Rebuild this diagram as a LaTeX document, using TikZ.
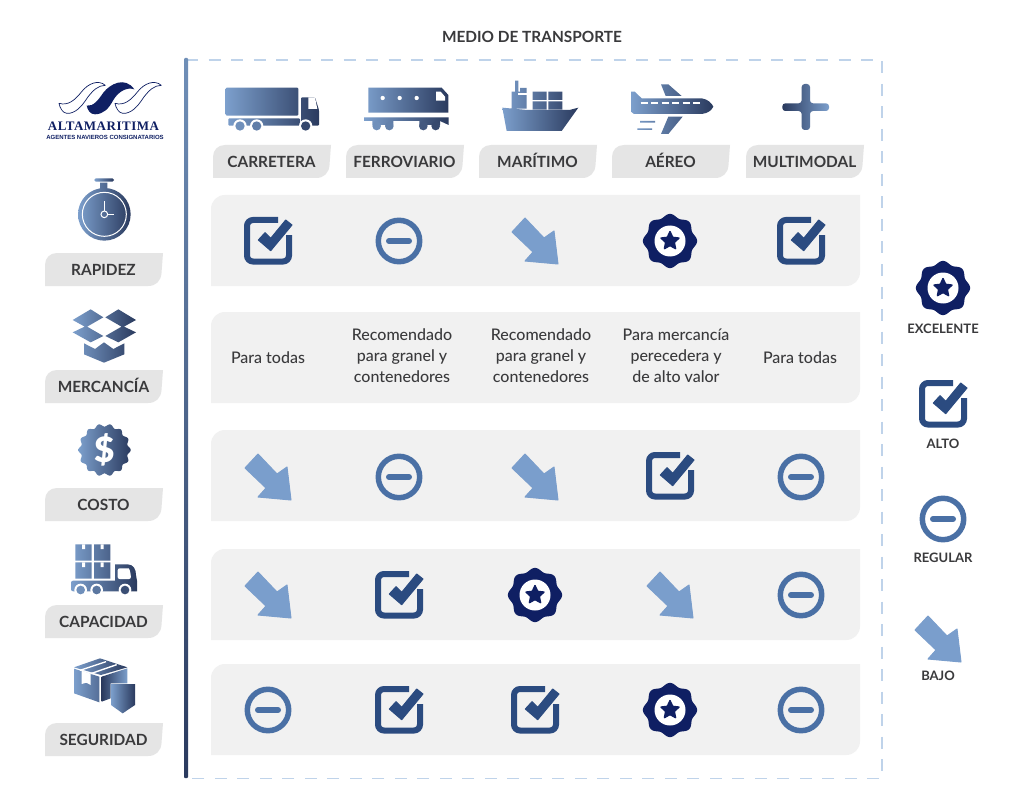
\documentclass[tikz,border=0pt]{standalone}
\usepackage{fontspec}
\setmainfont{Lato}
\newfontface\latomed{Lato Medium}
\newfontface\latoblack{Lato Black}
\newfontfamily\logoserif[LetterSpace=4]{Liberation Serif}
\newfontfamily\logosans{Liberation Sans}
\definecolor{gl}{HTML}{7C9FCC}
\definecolor{gd}{HTML}{2A3A5E}
\definecolor{rowgray}{HTML}{F1F1F1}
\definecolor{taggray}{HTML}{E5E5E5}
\definecolor{txt}{HTML}{3A3A3C}
\definecolor{chkblue}{HTML}{2B4B80}
\definecolor{minblue}{HTML}{4A70A5}
\definecolor{arrblue}{HTML}{7A9ECC}
\definecolor{navy}{HTML}{0F1F63}
\definecolor{dashblue}{HTML}{BFD3EA}
\newcommand{\rowbox}[4]{% x1 y1 x2 y2
  \fill[rowgray] ({#1},{#4}) -- ({#1},{#2+14}) .. controls ({#1},{#2+6}) and ({#1+6},{#2}) .. ({#1+14},{#2}) -- ({#3},{#2}) -- ({#3},{#4-14}) .. controls ({#3},{#4-6}) and ({#3-6},{#4}) .. ({#3-14},{#4}) -- cycle;}
\newcommand{\tagbox}[4]{% name x y text
  \fill[taggray] ({#2},{#3+33}) -- ({#2},{#3+12}) .. controls ({#2},{#3+5}) and ({#2+5},{#3}) .. ({#2+12},{#3}) -- ({#2+118},{#3}) -- ({#2+116.5},{#3+20}) .. controls ({#2+116},{#3+28}) and ({#2+111},{#3+33}) .. ({#2+103},{#3+33}) -- cycle;
  \node[taglabel,anchor=base] (#1) at ({#2+58.5},{#3+22.5}) {#4};}
\tikzset{
  x=1pt,y=-1pt,
  grad/.style={left color=gl,right color=gd},
  gradrev/.style={left color=gd,right color=gl},
  taglabel/.style={font=\fontsize{15.4}{16}\selectfont\bfseries,text=txt,inner sep=0pt},
  leglabel/.style={font=\fontsize{13}{13}\selectfont\bfseries,text=txt,inner sep=0pt,anchor=base},
  rowtext/.style={font=\fontsize{16}{21}\latomed,text=txt,align=center,inner sep=0pt},
  iconcheck/.pic={
    \draw[chkblue,line width=6pt,rounded corners=6pt] (10,-21) -- (-21,-21) -- (-21,20.5) -- (21,20.5) -- (21,-6);
    \fill[chkblue,draw=chkblue,line width=1pt,line join=round] (-9.7,-1) -- (-3,-8.3) -- (2.7,-2.7) -- (17.7,-21) -- (24,-16) -- (2.7,9.7) -- cycle;
  },
  iconminus/.pic={
    \draw[minblue,line width=5.5pt] (0,0) circle (20.7);
    \draw[minblue,line width=6pt,line cap=round] (-10,0) -- (10,0);
  },
  iconarrow/.pic={
    \fill[arrblue,draw=arrblue,line width=1pt,line join=round] (-23,-9) -- (-10,-23) -- (9,-3) -- (19,-10) -- (23,23) -- (-10,20) -- (-2,11) -- cycle;
  },
  iconbadge/.pic={
    \fill[navy] plot[domain=0:360,samples=145] ({(25.5+1.6*cos(8*\x))*sin(\x)},{-(25.5+1.6*cos(8*\x))*cos(\x)}) -- cycle;
    \fill[white] (0,0) circle (15.5);
    \fill[navy,draw=navy,line width=1.5pt,line join=round] plot[samples at={0,36,72,108,144,180,216,252,288,324}] ({(mod(\x,72)==0?9.4:4.5)*sin(\x)},{-(mod(\x,72)==0?9.4:4.5)*cos(\x)}) -- cycle;
  }
}
\begin{document}
\begin{tikzpicture}
\useasboundingbox (0,0) rectangle (1024,802);
\fill[white] (0,0) rectangle (1024,802);

% frame
\draw[dashblue,line width=1.6pt,dash pattern=on 12pt off 10.5pt] (186,60) -- (882,60) -- (882,778.5) -- (186,778.5);
\shade[top color=gl!90!black,bottom color=gd,rounded corners=1pt] (184,58) rectangle (188,778);

\node[font=\fontsize{15.4}{16}\selectfont\bfseries,text=txt,inner sep=0pt,anchor=base] (title) at (532,42.5) {MEDIO DE TRANSPORTE};

% rows
\rowbox{211}{195}{860}{286}
\rowbox{211}{312}{860}{403}
\rowbox{211}{430}{860}{521}
\rowbox{211}{549}{860}{640}
\rowbox{211}{664}{860}{755}

% column tags
\tagbox{carretera}{213}{145}{CARRETERA}
\tagbox{ferroviario}{346}{145}{FERROVIARIO}
\tagbox{maritimo}{479}{145}{MARÍTIMO}
\tagbox{aereo}{612}{145}{AÉREO}
\tagbox{multimodal}{746}{145}{MULTIMODAL}

% row tags
\tagbox{rapidez}{45}{253}{RAPIDEZ}
\tagbox{mercancia}{45}{370}{MERCANCÍA}
\tagbox{costo}{45}{488}{COSTO}
\tagbox{capacidad}{45}{605}{CAPACIDAD}
\tagbox{seguridad}{45}{723}{SEGURIDAD}

% text row
\node[rowtext] (t1) at (268,358) {Para todas};
\node[rowtext] (t2) at (402,356) {Recomendado\\para granel y\\contenedores};
\node[rowtext] (t3) at (541,356) {Recomendado\\para granel y\\contenedores};
\node[rowtext] (t4) at (676,356) {Para mercancía\\perecedera y\\de alto valor};
\node[rowtext] (t5) at (800,358) {Para todas};

% matrix
\pic at (268,241) {iconcheck};
\pic at (399,241) {iconminus};
\pic at (535,241) {iconarrow};
\pic at (670,241) {iconbadge};
\pic at (801,241) {iconcheck};

\pic at (268,477) {iconarrow};
\pic at (399,477) {iconminus};
\pic at (535,477) {iconarrow};
\pic at (670,476) {iconcheck};
\pic at (801,477) {iconminus};

\pic at (268,595) {iconarrow};
\pic at (399,595) {iconcheck};
\pic at (535,595) {iconbadge};
\pic at (670,595) {iconarrow};
\pic at (801,595) {iconminus};

\pic at (268,710) {iconminus};
\pic at (399,710) {iconcheck};
\pic at (535,710) {iconcheck};
\pic at (670,710) {iconbadge};
\pic at (801,710) {iconminus};

% legend
\pic at (943,288) {iconbadge};
\node[leglabel] (lexc) at (943,333.5) {EXCELENTE};
\pic at (943,404) {iconcheck};
\node[leglabel] (lalt) at (943,448.5) {ALTO};
\pic at (943,519) {iconminus};
\node[leglabel] (lreg) at (943,562.5) {REGULAR};
\pic at (938,639) {iconarrow};
\node[leglabel] (lbaj) at (938,680) {BAJO};

% truck
\begin{scope}[shift={(0,40)},scale=1/3]
\shade[grad,rounded corners=1pt] (677,143) rectangle (895,227) (685,235) rectangle (900,257)
   (903,172) -- (945,172) -- (957,210) -- (957,257) -- (903,257) -- cycle;
\fill[white] (925,172) -- (945,172) -- (952,207) -- (925,207) -- cycle;
\foreach \wx/\wc in {720/85,770/67,917/14}{
  \fill[white] (\wx,258) circle (20);
  \fill[gl!\wc!gd] (\wx,258) circle (14);}
\end{scope}

% train
\begin{scope}[shift={(340,60)},scale=1/3]
\shade[grad] (85,83) -- (305,83) -- (325,105) -- (325,158) -- (85,158) -- cycle
   (72,172) -- (326,172) -- (326,195) -- (300,183) -- (72,183) -- cycle
   (97,183) rectangle (160,195) (238,183) rectangle (300,195);
\fill[white] (288,95) -- (302,95) -- (315,110) -- (315,122) -- (288,122) -- cycle;
\foreach \dx in {128,179,230} \fill[white] (\dx,114) circle (6.5);
\foreach \wx/\wc in {110/85,148/70,250/30,287/15} \fill[gl!\wc!gd] (\wx,198) circle (13);
\end{scope}

% ship
\begin{scope}[shift={(340,60)},scale=1/3]
\shade[grad] (487,143) -- (562,150) -- (688,150) -- (715,143) -- (665,213) -- (500,213) -- cycle
   (515,95) rectangle (560,146) (525,62) rectangle (535,95) (540,84) rectangle (560,98)
   (578,95) rectangle (620,120) (625,95) rectangle (667,120)
   (578,124) rectangle (620,148) (625,124) rectangle (667,148);
\fill[white] (535,100) rectangle (560,104);
\end{scope}

% plane
\begin{scope}[shift={(340,60)},scale=1/3]
\shade[grad] (873,95) -- (884,95) -- (905,115) -- (1085,115) .. controls (1105,118) and (1115,130) .. (1120,140) .. controls (1115,150) and (1105,160) .. (1085,162) -- (882,162) -- (873,155) -- cycle
   (963,73) -- (985,73) -- (1025,108) -- (977,108) -- cycle
   (985,170) -- (1028,170) -- (985,222) -- (963,222) -- cycle
   (900,183) rectangle (945,188) (892,205) rectangle (936,210);
\draw[white,line width=1.8pt,dash pattern=on 7pt off 3.5pt] (902,130) -- (1085,130);
\end{scope}

% plus
\begin{scope}[shift={(730,50)},scale=1/3]
\shade[gradrev,rounded corners=3pt] (157,160) -- (215,160) -- (215,102) -- (240,102) -- (240,160) -- (297,160) -- (297,183) -- (240,183) -- (240,240) -- (215,240) -- (215,183) -- (157,183) -- cycle;
\end{scope}

% stopwatch
\begin{scope}[shift={(0,40)},scale=1/3]
\shade[grad] (313,523) circle (79)
  (300,428) rectangle (322,445);
\shade[grad,rounded corners=1.5pt] (283,415) rectangle (342,425);
\draw[white,line width=1pt] (313,523) circle (66);
\draw[white,line width=1pt] (313,523) circle (10);
\draw[white,line width=1pt] (313,513) -- (313,484) (323,523) -- (343,523);
\end{scope}

% open box
\begin{scope}[shift={(0,300)},scale=1/3]
\shade[grad] (218,60) -- (272,28) -- (310,52) -- (258,82) -- cycle
  (316,52) -- (355,28) -- (408,60) -- (368,82) -- cycle
  (218,97) -- (258,78) -- (310,108) -- (272,127) -- cycle
  (316,108) -- (368,78) -- (408,97) -- (355,127) -- cycle
  (252,130) -- (285,147) -- (312,127) -- (340,147) -- (373,130) -- (373,163) -- (312,188) -- (252,163) -- cycle;
\end{scope}

% cost badge
\begin{scope}[shift={(104.5,450)}]
\shade[grad] plot[domain=0:360,samples=181] ({(24.8+1.4*cos(14*\x))*cos(\x)},{(24.8+1.4*cos(14*\x))*sin(\x)}) -- cycle;
\node[font=\fontsize{35}{35}\latoblack,text=white,inner sep=0pt] (dollar) at (0,0) {\$};
\end{scope}

% loaded truck
\begin{scope}[shift={(0,530)},scale=1/3]
\shade[grad] (226,43) rectangle (275,92) (282,43) rectangle (331,92)
  (226,97) rectangle (275,146) (282,97) rectangle (331,146)
  (213,158) -- (213,178) .. controls (213,182) and (216,184) .. (220,184) -- (345,184) -- (345,152) -- (220,152) .. controls (216,152) and (213,154) .. (213,158) -- cycle
  (345,103) -- (383,103) .. controls (400,103) and (408,118) .. (408,135) -- (411,152) -- (411,184) -- (345,184) -- cycle;
\fill[white] (246,43) rectangle (255,57) (302,43) rectangle (311,57) (246,97) rectangle (255,111) (302,97) rectangle (311,111);
\fill[white,rounded corners=2pt] (353,115) -- (380,115) .. controls (388,115) and (392,128) .. (393,147) -- (353,147) -- cycle;
\foreach \wx/\wc in {242/85,290/60,375/20}{
  \fill[white] (\wx,180) circle (19);
  \fill[gl!\wc!gd] (\wx,180) circle (13);}
\end{scope}

% secured box
\begin{scope}[shift={(0,530)},scale=1/3]
\shade[grad] (222,412) -- (300,385) -- (382,412) -- (303,435) -- cycle
  (222,416) -- (298,440) -- (298,517) -- (222,490) -- cycle;
\shade[gradrev] (305,440) -- (382,415) -- (382,460) -- (332,460) -- (332,505) -- (305,515) -- cycle;
\draw[white,line width=1.4pt] (240,421) -- (318,395) (272,431) -- (350,404);
\fill[white] (245,422) -- (272,431) -- (272,465) -- (259,458) -- (245,462) -- cycle;
\shade[grad] (333,462) -- (405,462) -- (405,525) -- (368,550) -- (333,525) -- cycle;
\end{scope}

% logo
\begin{scope}[shift={(40,70)},scale=1/3]
\foreach \sh in {0,168}{
\begin{scope}[xshift=\sh*1pt]
\draw[navy,line width=0.7pt,fill=white,line join=round] (57,100) .. controls (85,108) and (105,90) .. (125,65) .. controls (145,40) and (175,28) .. (196,46) .. controls (175,46) and (160,60) .. (143,82) .. controls (125,110) and (105,132) .. (80,130) .. controls (68,128) and (60,115) .. (57,100) -- cycle;
\end{scope}}
\fill[navy] (140,107) .. controls (160,110) and (175,90) .. (190,68) .. controls (210,42) and (255,18) .. (283,58) .. controls (260,50) and (235,65) .. (220,90) .. controls (205,118) and (190,132) .. (165,133) .. controls (150,133) and (143,120) .. (140,107) -- cycle;
\end{scope}
\node[font=\fontsize{13}{14}\logoserif\bfseries,text=navy,inner sep=0pt] (logotext) at (103.5,126.5) {ALTAMARITIMA};
\node[font=\fontsize{6}{7}\logosans\bfseries,text=navy,inner sep=0pt] (logosub) at (105,137) {AGENTES NAVIEROS CONSIGNATARIOS};
\end{tikzpicture}
\end{document}
